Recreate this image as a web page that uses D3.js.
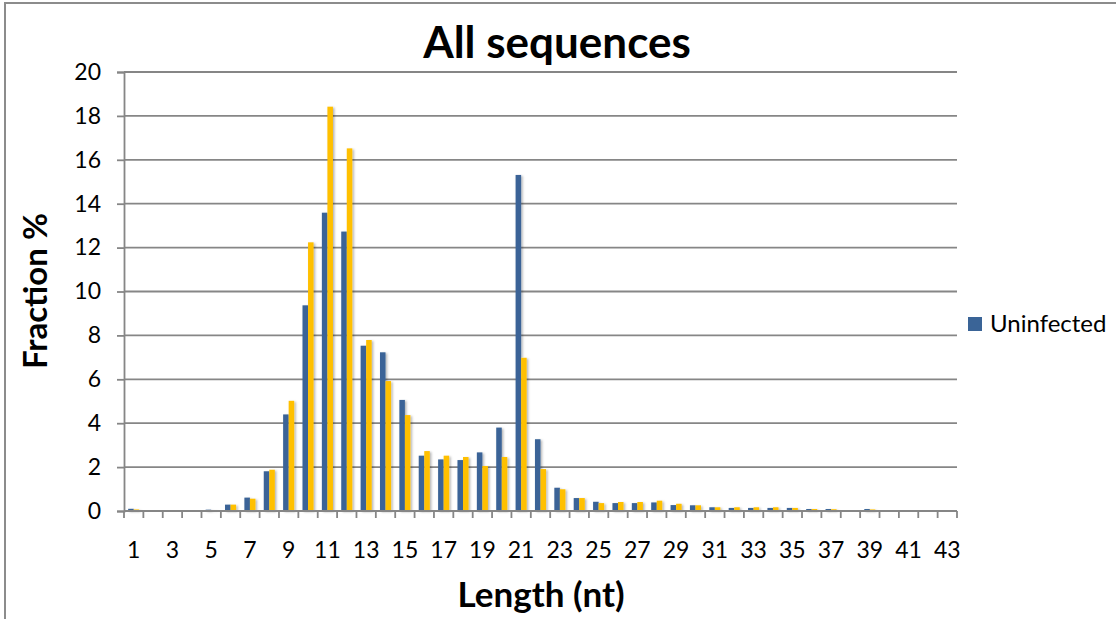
<!DOCTYPE html>
<html>
<head>
<meta charset="utf-8">
<script src="https://cdn.jsdelivr.net/npm/d3@7"></script>
<style>
  body { margin: 0; background: #fff; }
  svg { display: block; font-family: Lato, "Open Sans", sans-serif; }
</style>
</head>
<body>
<svg id="chart" width="1116" height="619"></svg>
<script>
// lengths 1..43 (nt)
const lengths = d3.range(1, 44);
// Uninfected (blue)
const uninfected = [0.10, 0, 0, 0, 0.06, 0.29, 0.61, 1.81, 4.40, 9.37,
  13.59, 12.73, 7.53, 7.23, 5.06, 2.52, 2.35, 2.32, 2.67, 3.80,
  15.31, 3.27, 1.06, 0.59, 0.42, 0.36, 0.36, 0.39, 0.27, 0.26,
  0.17, 0.14, 0.14, 0.14, 0.14, 0.09, 0.09, 0, 0.09, 0,
  0, 0, 0];
// second series (yellow, no legend entry)
const infected = [0.07, 0, 0, 0, 0.02, 0.29, 0.56, 1.88, 5.02, 12.24,
  18.42, 16.52, 7.79, 5.92, 4.37, 2.73, 2.52, 2.46, 2.05, 2.46,
  6.98, 1.91, 0.99, 0.59, 0.36, 0.41, 0.41, 0.47, 0.33, 0.26,
  0.17, 0.17, 0.17, 0.17, 0.14, 0.09, 0.08, 0, 0.07, 0,
  0, 0, 0];
const yTicks = d3.range(0, 21, 2);
const xLabels = lengths.filter(d => d % 2 === 1);

const svg = d3.select("#chart");
const plotL = 124, plotR = 957, plotT = 72, plotB = 511;
const gridColor = "#868686";
const tickFont = 23;

// chart frame (runs off the right and bottom edges)
svg.append("rect").attr("x", 5).attr("y", 3).attr("width", 1130).attr("height", 640)
  .attr("fill", "none").attr("stroke", "#8c8c8c").attr("stroke-width", 2);

const defs = svg.append("defs");
defs.append("filter").attr("id", "shadow").attr("x", "-50%").attr("y", "-10%")
  .attr("width", "200%").attr("height", "120%")
  .append("feDropShadow").attr("dx", 1.5).attr("dy", 1).attr("stdDeviation", 0.9)
  .attr("flood-color", "#000").attr("flood-opacity", 0.3);

const x = d3.scaleBand().domain(lengths).range([plotL, plotR])
  .paddingInner(0.4286).paddingOuter(0.2143);
const inner = d3.scaleBand().domain(["u", "i"]).range([0, x.bandwidth()]);
const y = d3.scaleLinear().domain([0, 20]).range([plotB, plotT]);

// gridlines
svg.append("g").selectAll("line").data(yTicks.filter(d => d > 0)).join("line")
  .attr("x1", plotL).attr("x2", plotR)
  .attr("y1", d => y(d)).attr("y2", d => y(d))
  .attr("stroke", gridColor).attr("stroke-width", 1.8);

// y axis
const yAxis = svg.append("g").attr("transform", `translate(${plotL},0)`)
  .call(d3.axisLeft(y).tickValues(yTicks).tickSize(7).tickPadding(16));
yAxis.select(".domain").attr("stroke", gridColor).attr("stroke-width", 1.8);
yAxis.selectAll(".tick line").attr("stroke", gridColor).attr("stroke-width", 1.8);
yAxis.selectAll("text").attr("font-size", tickFont).attr("fill", "#000").attr("font-family", "Lato");

// bars
const groups = svg.append("g").attr("filter", "url(#shadow)");
const series = [
  { key: "u", values: uninfected, color: "#3A6497" },
  { key: "i", values: infected, color: "#FFC000" }
];
series.forEach(s => {
  groups.append("g").selectAll("rect").data(lengths).join("rect")
    .attr("x", (d, i) => x(d) + inner(s.key))
    .attr("width", inner.bandwidth())
    .attr("y", (d, i) => y(s.values[i]))
    .attr("height", (d, i) => y(0) - y(s.values[i]))
    .attr("fill", s.color);
});

// x axis line and category boundary ticks
const edge = d3.scaleLinear().domain([0, lengths.length]).range([plotL, plotR]);
svg.append("line").attr("x1", plotL).attr("x2", plotR).attr("y1", plotB).attr("y2", plotB)
  .attr("stroke", gridColor).attr("stroke-width", 1.8);
svg.append("g").selectAll("line").data(d3.range(0, lengths.length + 1)).join("line")
  .attr("x1", d => edge(d)).attr("x2", d => edge(d))
  .attr("y1", plotB).attr("y2", plotB + 7)
  .attr("stroke", gridColor).attr("stroke-width", 1.8);

const xAxis = svg.append("g").attr("transform", `translate(0,${plotB})`)
  .call(d3.axisBottom(x).tickValues(xLabels).tickSize(0).tickPadding(31));
xAxis.select(".domain").remove();
xAxis.selectAll("text").attr("font-size", tickFont).attr("fill", "#000").attr("font-family", "Lato");

// titles
svg.append("text").attr("x", 557).attr("y", 58).attr("text-anchor", "middle")
  .attr("font-size", 44).attr("font-weight", "bold").text("All sequences");
svg.append("text").attr("x", 541).attr("y", 607).attr("text-anchor", "middle")
  .attr("font-size", 35).attr("font-weight", "bold").text("Length (nt)");
svg.append("text").attr("transform", "translate(47,291) rotate(-90)").attr("text-anchor", "middle")
  .attr("font-size", 33).attr("font-weight", "bold").text("Fraction %");

// legend
const legend = svg.append("g").attr("transform", "translate(968,317)");
legend.append("rect").attr("width", 14).attr("height", 14).attr("fill", "#3A6497");
legend.append("text").attr("x", 22).attr("y", 15).attr("font-size", 24).text("Uninfected");
</script>
</body>
</html>
